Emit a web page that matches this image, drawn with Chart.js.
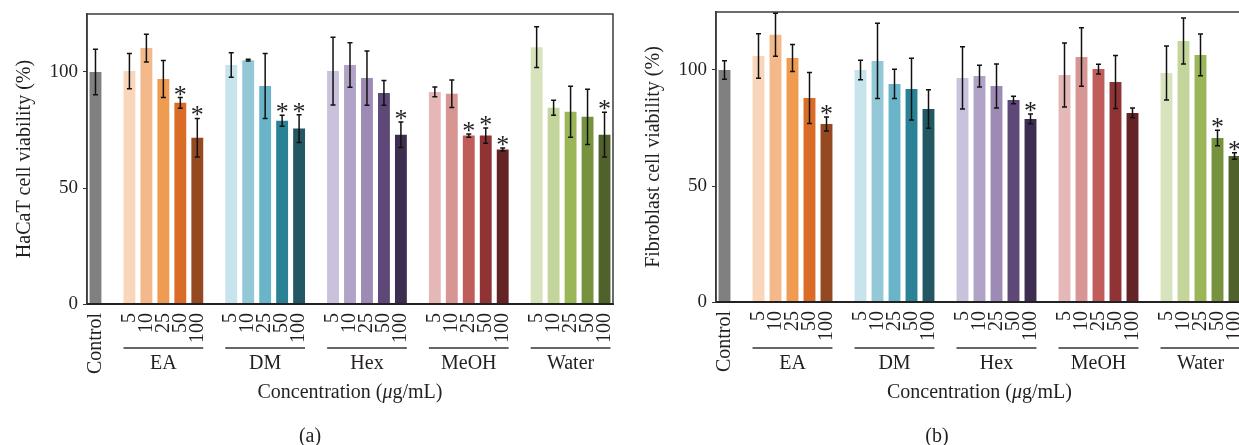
<!DOCTYPE html>
<html>
<head>
<meta charset="utf-8">
<script src="https://cdn.jsdelivr.net/npm/chart.js@4.4.0/dist/chart.umd.min.js"></script>
<style>
  html, body { margin: 0; padding: 0; background: #fff; overflow: hidden; width: 1239px; height: 445px; }
  canvas { position: absolute; top: 0; }
  #chartA { left: 0; }
  #chartB { left: 629px; }
</style>
</head>
<body>
<canvas id="chartA" width="620" height="445"></canvas>
<canvas id="chartB" width="621" height="445"></canvas>
<script>
const groups = ['EA', 'DM', 'Hex', 'MeOH', 'Water'];
const concentrations = ['5', '10', '25', '50', '100'];

// order: Control, then EA 5..100, DM, Hex, MeOH, Water
const hacatMean = [100,
  100.4, 110.3, 97.0, 86.7, 71.7,
  103.0, 105.1, 94.0, 79.0, 75.6,
  100.4, 103.0, 97.4, 91.0, 73.0,
  91.4, 90.6, 72.6, 72.6, 66.6,
  110.7, 84.6, 82.9, 80.7, 73.0];
const hacatErr = [9.8,
  7.6, 6.0, 8.0, 2.3, 8.3,
  5.3, 0.4, 14.0, 2.4, 6.0,
  14.6, 9.6, 11.7, 5.3, 5.5,
  2.1, 5.9, 0.7, 3.3, 0.6,
  8.8, 3.2, 11.0, 11.9, 9.6];
const hacatStar = [0,
  0, 0, 0, 1, 1,
  0, 0, 0, 1, 1,
  0, 0, 0, 0, 1,
  0, 0, 1, 1, 1,
  0, 0, 0, 0, 1];

const fibroMean = [100,
  106.0, 115.2, 105.2, 87.9, 76.7,
  100.0, 103.9, 94.0, 91.8, 83.2,
  96.6, 97.4, 93.1, 87.1, 78.9,
  97.8, 105.6, 100.4, 94.8, 81.5,
  98.7, 112.5, 106.5, 70.7, 62.9];
const fibroErr = [4.0,
  9.6, 9.3, 5.8, 11.0, 3.0,
  4.2, 16.2, 6.3, 13.3, 8.3,
  13.4, 4.7, 9.5, 1.6, 2.1,
  13.8, 12.6, 2.1, 11.4, 2.1,
  11.6, 9.9, 9.0, 3.3, 1.4];
const fibroStar = [0,
  0, 0, 0, 0, 1,
  0, 0, 0, 0, 0,
  0, 0, 0, 0, 1,
  0, 0, 0, 0, 0,
  0, 0, 0, 1, 1];

const controlColor = '#808080';
const groupColors = [
  ['#f9d6b9', '#f4b98b', '#ef9b52', '#da6c28', '#954921'],
  ['#c7e4ec', '#93c9d6', '#69b4c9', '#2b8296', '#235764'],
  ['#cac1dd', '#b1a2c7', '#9e8bb5', '#5e4877', '#3d2e51'],
  ['#e5b8b7', '#d79594', '#c05d5b', '#8f3335', '#642325'],
  ['#d7e3bd', '#c3d59b', '#9bb659', '#77923f', '#50612c'],
];

// put an empty slot before each group
function spread(arr) {
  const out = [arr[0]];
  for (let g = 0; g < groups.length; g++) {
    out.push(null);
    for (let c = 0; c < concentrations.length; c++) out.push(arr[1 + g * 5 + c]);
  }
  return out;
}

const labels = spread(['Control'].concat(groups.flatMap(() => concentrations))).map(l => l === null ? '' : l);
const colors = spread([controlColor].concat(groupColors.flat()));

const serif = '"Liberation Serif", "DejaVu Serif", serif';
const ink = '#231f20';

const extras = {
  id: 'extras',
  afterDatasetsDraw(chart, args, opts) {
    const {ctx, chartArea: area, scales: {y}} = chart;
    const meta = chart.getDatasetMeta(0);
    ctx.save();

    // frame round the plot
    ctx.strokeStyle = '#3c3c3c';
    ctx.lineWidth = 1.5;
    ctx.strokeRect(area.left, area.top, area.right - area.left, area.bottom - area.top);
    ctx.strokeStyle = '#222';
    ctx.lineWidth = 2;
    ctx.beginPath();
    ctx.moveTo(area.left, area.bottom);
    ctx.lineTo(area.right, area.bottom);
    ctx.stroke();

    // error bars and stars
    const err = opts.err, star = opts.star, mean = chart.data.datasets[0].data;
    ctx.strokeStyle = '#111';
    ctx.lineWidth = 1.5;
    ctx.fillStyle = ink;
    ctx.font = '26px ' + serif;
    ctx.textAlign = 'center';
    ctx.textBaseline = 'alphabetic';
    mean.forEach((v, i) => {
      if (v === null) return;
      const bx = meta.data[i].x;
      const top = y.getPixelForValue(v + err[i]);
      const bot = y.getPixelForValue(v - err[i]);
      ctx.beginPath();
      ctx.moveTo(bx, top); ctx.lineTo(bx, bot);
      ctx.moveTo(bx - 2.5, top); ctx.lineTo(bx + 2.5, top);
      ctx.moveTo(bx - 2.5, bot); ctx.lineTo(bx + 2.5, bot);
      ctx.stroke();
      if (star[i]) ctx.fillText('*', bx, top + 5);
    });

    // group brackets
    ctx.font = '20px ' + serif;
    ctx.textBaseline = 'middle';
    ctx.strokeStyle = '#333';
    ctx.lineWidth = 1.5;
    groups.forEach((g, k) => {
      const first = meta.data[2 + k * 6], last = meta.data[6 + k * 6];
      const x0 = first.x - first.width / 2, x1 = last.x + last.width / 2;
      ctx.beginPath();
      ctx.moveTo(x0, 348); ctx.lineTo(x1, 348);
      ctx.stroke();
      ctx.fillText(g, (x0 + x1) / 2, 364);
    });

    // axis title with italic mu
    const parts = [['Concentration (', ''], ['\u03bc', 'italic '], ['g/mL)', '']];
    let w = 0;
    parts.forEach(p => { ctx.font = p[1] + '20px ' + serif; w += ctx.measureText(p[0]).width; });
    let tx = (area.left + area.right) / 2 - w / 2;
    ctx.textAlign = 'left';
    parts.forEach(p => {
      ctx.font = p[1] + '20px ' + serif;
      ctx.fillText(p[0], tx, 393);
      tx += ctx.measureText(p[0]).width;
    });

    // panel caption
    ctx.font = '20px ' + serif;
    ctx.textAlign = 'center';
    ctx.fillText(opts.caption, opts.captionX, 437);
    ctx.restore();
  }
};

function makeChart(id, yTitle, mean, err, star, caption, captionX, padTop, xHeight) {
  return new Chart(document.getElementById(id), {
    type: 'bar',
    data: {
      labels: labels,
      datasets: [{
        data: spread(mean),
        backgroundColor: colors,
        borderWidth: 0,
        categoryPercentage: 1,
        barPercentage: 0.7,
      }]
    },
    options: {
      responsive: false,
      animation: false,
      layout: { padding: { top: padTop, right: 7, left: 0, bottom: 0 } },
      plugins: {
        legend: { display: false },
        tooltip: { enabled: false },
        extras: { err: spread(err), star: spread(star), caption: caption, captionX: captionX },
      },
      scales: {
        x: {
          grid: { display: false, drawTicks: false },
          border: { display: true, color: '#222', width: 2 },
          ticks: {
            autoSkip: false, maxRotation: 90, minRotation: 90, padding: 9,
            color: ink, font: { family: serif, size: 20 },
          },
          afterFit: s => { s.height = xHeight; s.paddingLeft = 0; s.paddingRight = 0; },
        },
        y: {
          min: 0, max: 125,
          grid: { display: true, drawOnChartArea: false, drawTicks: true, tickLength: 4, color: '#333' },
          border: { display: true, color: '#333', width: 1.5 },
          ticks: { stepSize: 50, padding: 5, color: ink, font: { family: serif, size: 19 } },
          title: { display: true, text: yTitle, color: ink, font: { family: serif, size: 20 }, padding: { top: 13, bottom: 0 } },
          afterBuildTicks: s => { s.ticks = s.ticks.filter(t => t.value % 50 === 0); },
          afterFit: s => { s.width = 87; s.paddingTop = 0; s.paddingBottom = 0; },
        }
      }
    },
    plugins: [extras]
  });
}

makeChart('chartA', 'HaCaT cell viability (%)', hacatMean, hacatErr, hacatStar, '(a)', 310, 14, 141);
makeChart('chartB', 'Fibroblast cell viability (%)', fibroMean, fibroErr, fibroStar, '(b)', 308, 12, 143);
</script>
</body>
</html>
